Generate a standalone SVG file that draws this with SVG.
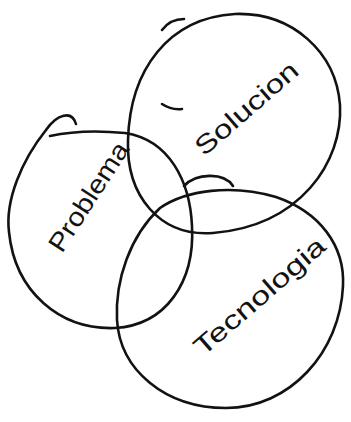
<svg xmlns="http://www.w3.org/2000/svg" width="351" height="422" viewBox="0 0 351 422">
<style>
.c{fill:none;stroke:#121212;stroke-width:2.6;stroke-linecap:round;stroke-linejoin:round}
.t{font-family:"Liberation Sans","DejaVu Sans",sans-serif;fill:#121212;font-size:26px}
</style>
<rect width="351" height="422" fill="#ffffff"/>
<g id="connectors"></g>
<g id="solucion">
<path class="c" d="M 235,14 C 292,12 336,52 340,105 C 343,162 300,226 213,233 C 160,237 126,196 128,140 C 130,70 168,18 235,14 Z"/>
<path class="c" d="M 162,30 C 168,22 176,19 184,19"/>
<path class="c" d="M 162,104 C 168,108 174,110 182,109"/>
<text class="t" transform="translate(204,157) rotate(-41)" textLength="128" lengthAdjust="spacingAndGlyphs">Solucion</text>
</g>
<g id="problema">
<path class="c" d="M 76,124 C 72,110 57,114 46,130 C 22,160 5,200 9,232 C 15,292 60,330 115,328 C 166,325 195,282 192,226 C 190,182 170,140 125,133 C 95,130 68,132 50,136"/>
<text class="t" transform="translate(62,254) rotate(-57)" textLength="125" lengthAdjust="spacingAndGlyphs">Problema</text>
</g>
<g id="tecnologia">
<path class="c" d="M 160,208 C 186,190 232,184 276,197 C 320,212 345,246 343,286 C 340,352 290,408 226,408 C 165,408 120,370 117,320 C 115,280 130,236 160,208 Z"/>
<path class="c" d="M 184,186 C 196,173 224,172 233,186"/>
<text class="t" transform="translate(203,357) rotate(-41)" textLength="165" lengthAdjust="spacingAndGlyphs">Tecnologia</text>
</g>
</svg>
